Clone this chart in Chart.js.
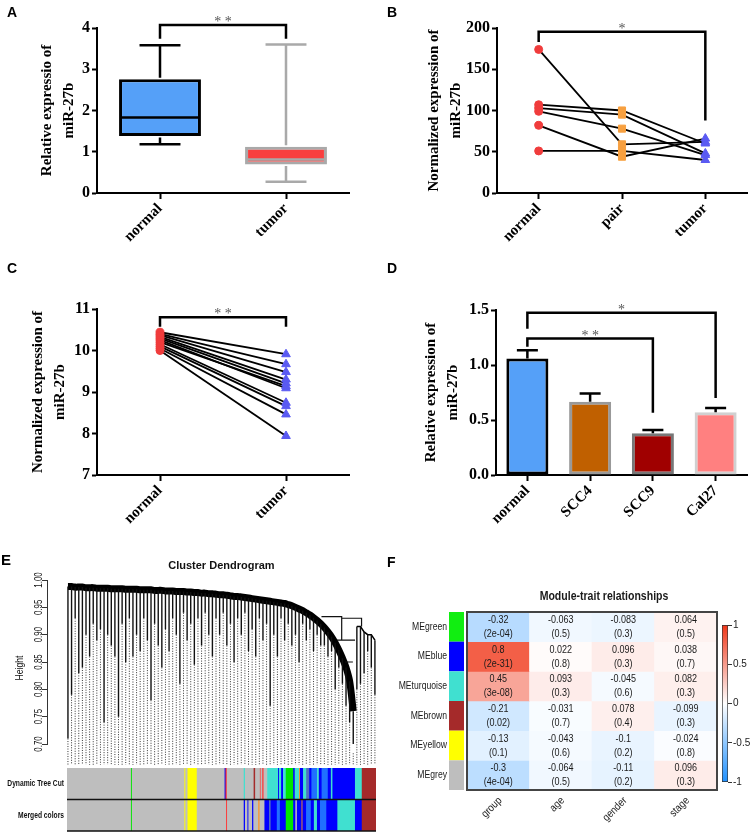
<!DOCTYPE html>
<html>
<head>
<meta charset="utf-8">
<script src="https://cdn.jsdelivr.net/npm/chart.js@4"></script>
<style>
  body { margin: 0; background: #fff; }
  #wrap { position: relative; width: 753px; height: 834px; overflow: hidden; }
  canvas { position: absolute; }
  .tag { position: absolute; font: bold 14px "Liberation Sans", Arial, sans-serif; line-height: 14px; color: #000; }
</style>
</head>
<body>
<div id="wrap">
  <canvas id="chartA" style="left:0;top:0" width="376" height="270"></canvas>
  <canvas id="chartB" style="left:376px;top:0" width="377" height="270"></canvas>
  <canvas id="chartC" style="left:0;top:270px" width="376" height="280"></canvas>
  <canvas id="chartD" style="left:376px;top:270px" width="377" height="280"></canvas>
  <canvas id="chartE" style="left:0;top:555px" width="376" height="210"></canvas>
  <canvas id="chartStrip" style="left:0;top:765px" width="376" height="69"></canvas>
  <canvas id="chartF" style="left:376px;top:555px" width="345" height="279"></canvas>
  <canvas id="chartBar" style="left:716px;top:615px" width="37" height="177"></canvas>
  <div class="tag" style="left:7px;top:5px">A</div>
  <div class="tag" style="left:387px;top:5px">B</div>
  <div class="tag" style="left:7px;top:261px">C</div>
  <div class="tag" style="left:387px;top:261px">D</div>
  <div class="tag" style="left:1px;top:553px;font-size:15px">E</div>
  <div class="tag" style="left:387px;top:555px">F</div>
</div>
<script>
// ---- A: box plot ----
const aCats = ['normal', 'tumor'];
const aMin = [1.18, 0.27];
const aQ1 = [1.38, 0.69];
const aMed = [1.83, 0.81];
const aQ3 = [2.76, 1.12];
const aMax = [3.58, 3.60];
const aSig = [{ from: 0, to: 1, top: 4.07, left: 3.74, right: 3.74, text: '* *' }];

// ---- B: paired samples ----
const bCats = ['normal', 'pair', 'tumor'];
const bNormal = [174, 107, 103, 99, 82, 51];
const bPair = [59, 100, 95, 78, 44, 51];
const bTumor = [62, 60, 48, 46, 66, 40];
const bSig = [{ from: 0, to: 2, top: 195.5, left: 183, right: 88, text: '*' }];

// ---- C: paired samples ----
const cCats = ['normal', 'tumor'];
const cNormal = [10.44, 10.40, 10.37, 10.33, 10.29, 10.25, 10.20, 10.15, 10.10, 10.05, 10.00];
const cTumor = [9.91, 9.67, 9.48, 9.30, 9.21, 9.09, 9.14, 8.74, 8.66, 8.46, 7.94];
const cSig = [{ from: 0, to: 1, top: 10.8, left: 10.57, right: 10.57, text: '* *' }];

// ---- D: bars with error ----
const dCats = ['normal', 'SCC4', 'SCC9', 'Cal27'];
const dMean = [1.06, 0.665, 0.38, 0.57];
const dErr = [0.075, 0.075, 0.028, 0.04];
const dSig = [
  { from: 0, to: 3, top: 1.475, left: 1.33, right: 0.70, text: '*' },
  { from: 0, to: 2, top: 1.24, left: 1.167, right: 0.566, text: '* *' }
];

// ---- E: dendrogram (simplified leaves) ----
const eLeafLow = [0.71, 0.79, 0.93, 0.83, 0.84, 0.90, 0.86, 0.92, 0.89, 0.91,
  0.74, 0.90, 0.88, 0.86, 0.75, 0.92, 0.85, 0.93, 0.86, 0.90,
  0.87, 0.93, 0.89, 0.78, 0.92, 0.88, 0.84, 0.91, 0.87, 0.93,
  0.90, 0.81, 0.94, 0.89, 0.92, 0.845, 0.93, 0.88, 0.94, 0.90,
  0.86, 0.93, 0.90, 0.94, 0.88, 0.92, 0.85, 0.93, 0.90, 0.94,
  0.87, 0.91, 0.86, 0.93, 0.89, 0.92, 0.77, 0.90, 0.86, 0.93,
  0.89, 0.92, 0.88, 0.90, 0.85, 0.92, 0.89, 0.91, 0.87, 0.90,
  0.88, 0.88, 0.86, 0.87, 0.80, 0.84, 0.81, 0.77, 0.74, 0.683,
  0.80, 0.81, 0.83, 0.87, 0.84, 0.79];
const eTrunkTop = [0.988, 0.988, 0.987, 0.987, 0.987, 0.986, 0.986, 0.986, 0.985, 0.985, 0.985,
  0.985, 0.984, 0.984, 0.984, 0.984, 0.983, 0.983, 0.983, 0.983, 0.982, 0.982,
  0.982, 0.982, 0.981, 0.981, 0.981, 0.980, 0.980, 0.980, 0.979, 0.979, 0.979,
  0.978, 0.978, 0.977, 0.977, 0.976, 0.976, 0.975, 0.975, 0.974, 0.973, 0.973,
  0.972, 0.971, 0.970, 0.970, 0.969, 0.968, 0.967, 0.966, 0.965, 0.964, 0.963,
  0.962, 0.961, 0.960, 0.959, 0.958, 0.957, 0.955, 0.953, 0.950, 0.947, 0.944,
  0.940, 0.936, 0.931, 0.926, 0.920, 0.913, 0.905, 0.896, 0.885, 0.872, 0.857,
  0.840, 0.815, 0.760];
const eSideTop = [0.915, 0.915, 0.905, 0.90, 0.90, 0.89];
const eMergePaths = [
  [[70.2, 0.933], [75.8, 0.933], [75.8, 0.89]],
  [[75.8, 0.93], [81.3, 0.93], [81.3, 0.915]],
  [[74.5, 0.89], [79.5, 0.89]],
  [[76.7, 0.85], [78.9, 0.85]]
];
const eBase = 0.662;
const eTicks = [0.70, 0.75, 0.80, 0.85, 0.90, 0.95, 1.00];

const stripRows = ['Dynamic Tree Cut', 'Merged colors'];
const dtcSegs = [
  [0, 20.8, 'grey'], [20.8, 21.1, 'green'], [21.1, 38.1, 'grey'], [38.1, 38.4, 'yellow'], [38.4, 39.1, 'grey'],
  [39.1, 42.1, 'yellow'], [42.1, 51.1, 'grey'], [51.1, 51.4, 'blue'], [51.4, 51.8, 'red'], [51.8, 57.3, 'grey'],
  [57.3, 57.7, 'turquoise'], [57.7, 60.5, 'grey'], [60.5, 61.0, 'brown'], [61.0, 62.5, 'grey'], [62.5, 62.9, 'salmon'],
  [62.9, 63.3, 'grey'], [63.3, 63.7, 'red'], [63.7, 64.9, 'grey'], [64.9, 68.4, 'turquoise'], [68.4, 68.7, 'blue'],
  [68.7, 69.4, 'turquoise'], [69.4, 70.0, 'blue'], [70.0, 70.9, 'turquoise'], [70.9, 73.3, 'green'], [73.3, 73.8, 'blue'],
  [73.8, 75.2, 'turquoise'], [75.2, 75.5, 'orange'], [75.5, 76.5, 'blue'], [76.5, 77.5, 'turquoise'], [77.5, 78.5, 'steelblue'],
  [78.5, 79.2, 'blue'], [79.2, 81.0, 'dodgerblue'], [81.0, 81.6, 'turquoise'], [81.6, 82.5, 'blue'], [82.5, 84.5, 'dodgerblue'],
  [84.5, 85.5, 'blue'], [85.5, 86.0, 'turquoise'], [86.0, 93.3, 'blue'], [93.3, 95.5, 'turquoise'], [95.5, 100, 'brown']
];
const mergedSegs = [
  [0, 20.8, 'grey'], [20.8, 21.1, 'green'], [21.1, 38.1, 'grey'], [38.1, 38.4, 'yellow'], [38.4, 39.1, 'grey'],
  [39.1, 42.1, 'yellow'], [42.1, 51.6, 'grey'], [51.6, 51.9, 'red'], [51.9, 57.3, 'grey'], [57.3, 57.7, 'blue'],
  [57.7, 58.5, 'grey'], [58.5, 58.8, 'blue'], [58.8, 60.0, 'grey'], [60.0, 60.4, 'blue'], [60.4, 62.0, 'grey'],
  [62.0, 62.4, 'orange'], [62.4, 64.0, 'grey'], [64.0, 65.5, 'blue'], [65.5, 66.0, 'steelblue'], [66.0, 68.0, 'blue'],
  [68.0, 69.0, 'dodgerblue'], [69.0, 70.9, 'blue'], [70.9, 73.3, 'green'], [73.3, 74.0, 'blue'], [74.0, 74.5, 'grey'],
  [74.5, 76.0, 'blue'], [76.0, 76.3, 'orange'], [76.3, 77.5, 'blue'], [77.5, 79.0, 'dodgerblue'], [79.0, 80.0, 'blue'],
  [80.0, 81.0, 'turquoise'], [81.0, 82.0, 'blue'], [82.0, 84.0, 'dodgerblue'], [84.0, 87.6, 'blue'], [87.6, 93.3, 'turquoise'],
  [93.3, 95.5, 'blue'], [95.5, 100, 'brown']
];
const palette = {
  grey: '#bebebe', green: '#00e600', yellow: '#ffff00', blue: '#0000ff', red: '#ff3030',
  turquoise: '#40e0d0', brown: '#a52a2a', salmon: '#e07070', orange: '#ff9020',
  steelblue: '#5070c0', dodgerblue: '#2070ff'
};

// ---- F: module-trait heatmap ----
const fModules = ['MEgreen', 'MEblue', 'MEturquoise', 'MEbrown', 'MEyellow', 'MEgrey'];
const fModuleColors = ['#11ee11', '#0000ff', '#40e0d0', '#a52a2a', '#ffff00', '#bebebe'];
const fTraits = ['group', 'age', 'gender', 'stage'];
const fCorr = [
  [-0.32, -0.063, -0.083, 0.064],
  [0.8, 0.022, 0.096, 0.038],
  [0.45, 0.093, -0.045, 0.082],
  [-0.21, -0.031, 0.078, -0.099],
  [-0.13, -0.043, -0.1, -0.024],
  [-0.3, -0.064, -0.11, 0.096]
];
const fPval = [
  ['2e-04', '0.5', '0.3', '0.5'],
  ['2e-31', '0.8', '0.3', '0.7'],
  ['3e-08', '0.3', '0.6', '0.3'],
  ['0.02', '0.7', '0.4', '0.3'],
  ['0.1', '0.6', '0.2', '0.8'],
  ['4e-04', '0.5', '0.2', '0.3']
];
const cbRange = [-1, 1];

const serif = '"Liberation Serif", "Times New Roman", serif';
const sans = '"Liberation Sans", Arial, sans-serif';

function corrColor(v) {
  const t = Math.min(1, Math.abs(v));
  const end = v >= 0 ? [240, 55, 25] : [30, 144, 255];
  const c = end.map(e => Math.round(255 + (e - 255) * t));
  return 'rgb(' + c.join(',') + ')';
}

function squeezed(ctx, text, x, y, rot, sx) {
  ctx.save();
  ctx.translate(x, y);
  ctx.rotate(rot);
  ctx.scale(sx, 1);
  ctx.fillText(text, 0, 0);
  ctx.restore();
}

// significance brackets, positions come from the chart scales
const bracketPlugin = {
  id: 'brackets',
  afterDatasetsDraw(chart, args, opts) {
    const { ctx, scales: { x, y } } = chart;
    ctx.save();
    ctx.lineWidth = 2.5;
    ctx.strokeStyle = '#000';
    ctx.fillStyle = '#555';
    ctx.font = '14px ' + serif;
    ctx.textAlign = 'center';
    ctx.textBaseline = 'alphabetic';
    (opts.marks || []).forEach(m => {
      const x1 = x.getPixelForValue(m.from);
      const x2 = x.getPixelForValue(m.to);
      const yt = y.getPixelForValue(m.top);
      ctx.beginPath();
      ctx.moveTo(x1, y.getPixelForValue(m.left));
      ctx.lineTo(x1, yt);
      ctx.lineTo(x2, yt);
      ctx.lineTo(x2, y.getPixelForValue(m.right));
      ctx.stroke();
      ctx.fillText(m.text, (x1 + x2) / 2, yt + 1);
    });
    ctx.restore();
  }
};

function axes(p) {
  const tickFont = { family: serif, size: 16, weight: 'bold' };
  const yTicks = { stepSize: p.step, padding: 2, color: '#000', font: tickFont };
  if (p.fmt) yTicks.callback = p.fmt;
  return {
    x: {
      type: 'category', offset: true,
      grid: { display: true, offset: false, drawOnChartArea: false, tickLength: 6, tickWidth: 2, tickColor: '#000' },
      border: { display: true, color: '#000', width: 2 },
      ticks: { autoSkip: false, minRotation: 45, maxRotation: 45, padding: 1, color: '#000',
        font: { family: serif, size: 15, weight: 'bold' } },
      afterFit: s => { s.height = p.h - p.bottom; }
    },
    y: {
      min: p.min, max: p.max,
      grid: { drawOnChartArea: false, tickLength: 5, tickWidth: 2, tickColor: '#000' },
      border: { color: '#000', width: 2 },
      ticks: yTicks,
      title: {
        display: true, text: p.title, color: '#000',
        font: { family: serif, size: 15, weight: 'bold', lineHeight: 1.45 },
        padding: { top: p.titleAt - 11, bottom: 0 }
      },
      afterFit: s => { s.width = p.left; }
    }
  };
}

function baseOptions(p, marks) {
  return {
    responsive: false, animation: false, events: [],
    layout: { padding: { top: p.top, right: p.w - p.right, left: 0, bottom: 0 } },
    plugins: { legend: { display: false }, tooltip: { enabled: false }, brackets: { marks: marks } },
    scales: axes(p)
  };
}

// ---------- A ----------
const aEdge = ['#000', '#a9a9a9'];
const boxPlugin = {
  id: 'boxes',
  afterDatasetsDraw(chart) {
    const { ctx, scales: { y } } = chart;
    ctx.save();
    ctx.lineWidth = 2.5;
    chart.getDatasetMeta(0).data.forEach((bar, i) => {
      const half = bar.width / 4;
      ctx.strokeStyle = aEdge[i];
      const yMax = y.getPixelForValue(aMax[i]);
      const yMin = y.getPixelForValue(aMin[i]);
      ctx.beginPath();
      ctx.moveTo(bar.x, y.getPixelForValue(aQ3[i]) - 1.5);
      ctx.lineTo(bar.x, yMax);
      ctx.moveTo(bar.x - half, yMax);
      ctx.lineTo(bar.x + half, yMax);
      ctx.moveTo(bar.x, y.getPixelForValue(aQ1[i]) + 1.5);
      ctx.lineTo(bar.x, yMin);
      ctx.moveTo(bar.x - half, yMin);
      ctx.lineTo(bar.x + half, yMin);
      const ym = y.getPixelForValue(aMed[i]);
      ctx.moveTo(bar.x - bar.width / 2 + 2, ym);
      ctx.lineTo(bar.x + bar.width / 2 - 2, ym);
      ctx.stroke();
    });
    ctx.restore();
  }
};

const pA = { w: 376, h: 270, left: 97, right: 349, top: 28, bottom: 193, min: 0, max: 4, step: 1,
  title: ['Relative expressio of', 'miR-27b'], titleAt: 47 };
new Chart(document.getElementById('chartA'), {
  type: 'bar',
  data: {
    labels: aCats,
    datasets: [{
      data: aCats.map((c, i) => [aQ1[i], aQ3[i]]),
      backgroundColor: ['#55a0f8', '#f83f3f'],
      borderColor: aEdge,
      borderWidth: 3,
      borderSkipped: false,
      barPercentage: 0.65,
      categoryPercentage: 1
    }]
  },
  options: baseOptions(pA, aSig),
  plugins: [boxPlugin, bracketPlugin]
});

// ---------- B ----------
const groupStyle = {
  pointStyle: ['circle', 'rect', 'triangle'],
  radius: [4, 5, 5],
  color: ['#f03c3c', '#f7a040', '#5a5af2']
};
const pB = { w: 377, h: 270, left: 121, right: 371, top: 28, bottom: 193, min: 0, max: 200, step: 50,
  title: ['Normalized expression of', 'miR-27b'], titleAt: 58 };
const bCols = [bNormal, bPair, bTumor];
new Chart(document.getElementById('chartB'), {
  type: 'line',
  data: {
    labels: bCats,
    datasets: bNormal.map((v, i) => ({
      data: [bNormal[i], bPair[i], bTumor[i]],
      borderColor: '#000', borderWidth: 1.8, pointRadius: 0, order: 1
    })).concat(bCats.map((c, k) => ({
      data: bCols[k].map(v => ({ x: c, y: v })),
      showLine: false, order: 0,
      pointStyle: groupStyle.pointStyle[k], pointRadius: groupStyle.radius[k],
      pointBackgroundColor: groupStyle.color[k], pointBorderColor: groupStyle.color[k], pointBorderWidth: 1
    })))
  },
  options: baseOptions(pB, bSig),
  plugins: [bracketPlugin]
});

// ---------- C ----------
const pC = { w: 376, h: 280, left: 97, right: 349, top: 39, bottom: 205, min: 7, max: 11, step: 1,
  title: ['Normalized expression of', 'miR-27b'], titleAt: 38 };
const cCols = [cNormal, cTumor];
const cStyle = [0, 2];
new Chart(document.getElementById('chartC'), {
  type: 'line',
  data: {
    labels: cCats,
    datasets: cNormal.map((v, i) => ({
      data: [cNormal[i], cTumor[i]],
      borderColor: '#000', borderWidth: 1.8, pointRadius: 0, order: 1
    })).concat(cCats.map((c, k) => ({
      data: cCols[k].map(v => ({ x: c, y: v })),
      showLine: false, order: 0,
      pointStyle: groupStyle.pointStyle[cStyle[k]], pointRadius: groupStyle.radius[cStyle[k]],
      pointBackgroundColor: groupStyle.color[cStyle[k]], pointBorderColor: groupStyle.color[cStyle[k]], pointBorderWidth: 1
    })))
  },
  options: baseOptions(pC, cSig),
  plugins: [bracketPlugin]
});

// ---------- D ----------
const errPlugin = {
  id: 'errbars',
  afterDatasetsDraw(chart) {
    const { ctx, scales: { y } } = chart;
    ctx.save();
    ctx.lineWidth = 2.5;
    ctx.strokeStyle = '#000';
    chart.getDatasetMeta(0).data.forEach((bar, i) => {
      const yTop = y.getPixelForValue(dMean[i] + dErr[i]);
      ctx.beginPath();
      ctx.moveTo(bar.x, y.getPixelForValue(dMean[i]));
      ctx.lineTo(bar.x, yTop);
      ctx.moveTo(bar.x - 10.5, yTop);
      ctx.lineTo(bar.x + 10.5, yTop);
      ctx.stroke();
    });
    ctx.restore();
  }
};
const pD = { w: 377, h: 280, left: 120, right: 371, top: 40, bottom: 205, min: 0, max: 1.5, step: 0.5,
  title: ['Relative expression of', 'miR-27b'], titleAt: 55, fmt: v => Number(v).toFixed(1) };
new Chart(document.getElementById('chartD'), {
  type: 'bar',
  data: {
    labels: dCats,
    datasets: [{
      data: dMean,
      backgroundColor: ['#55a0f8', '#c06000', '#a00000', '#ff8080'],
      borderColor: ['#000', '#999', '#777', '#d0d0d0'],
      borderWidth: 3,
      borderSkipped: false,
      barPercentage: 0.67,
      categoryPercentage: 1
    }]
  },
  options: baseOptions(pD, dSig),
  plugins: [errPlugin, bracketPlugin]
});

// ---------- E ----------
const eLeafTop = eTrunkTop.concat(eSideTop);
const branchPts = [];
const guidePts = [];
eLeafLow.forEach((lo, i) => {
  branchPts.push({ x: i, y: eLeafTop[i] }, { x: i, y: lo }, { x: i, y: null });
  guidePts.push({ x: i, y: lo }, { x: i, y: eBase }, { x: i, y: null });
});
const mergePts = [];
eMergePaths.forEach(path => {
  path.forEach(pt => mergePts.push({ x: pt[0], y: pt[1] }));
  mergePts.push({ x: path[0][0], y: null });
});
const trunkPts = eTrunkTop.map((t, i) => ({ x: i, y: t }));
const sidePts = eSideTop.map((t, i) => ({ x: eTrunkTop.length + i, y: t }));

const eTextPlugin = {
  id: 'eText',
  afterDraw(chart) {
    const { ctx, scales: { x, y } } = chart;
    ctx.save();
    ctx.fillStyle = '#111';
    ctx.textAlign = 'center';
    ctx.textBaseline = 'middle';
    ctx.font = 'bold 11px ' + sans;
    ctx.fillText('Cluster Dendrogram', (x.getPixelForValue(0) + x.getPixelForValue(eLeafLow.length - 1)) / 2, 11);
    ctx.font = '11px ' + sans;
    eTicks.forEach(t => squeezed(ctx, t.toFixed(2), 39, y.getPixelForValue(t), -Math.PI / 2, 0.72));
    ctx.font = '11.5px ' + sans;
    squeezed(ctx, 'Height', 20, 113, -Math.PI / 2, 0.75);
    ctx.restore();
  }
};

new Chart(document.getElementById('chartE'), {
  type: 'line',
  data: {
    datasets: [
      { data: guidePts, borderColor: '#333', borderWidth: 1, borderDash: [1, 1.5], pointRadius: 0, clip: false, spanGaps: false },
      { data: branchPts, borderColor: '#111', borderWidth: 1.4, pointRadius: 0, spanGaps: false },
      { data: mergePts, borderColor: '#111', borderWidth: 1.2, pointRadius: 0, spanGaps: false },
      { data: trunkPts, borderColor: '#000', borderWidth: 7, pointRadius: 0, tension: 0.3 },
      { data: sidePts, borderColor: '#000', borderWidth: 1.5, pointRadius: 0 }
    ]
  },
  options: {
    responsive: false, animation: false, events: [],
    layout: { padding: { top: 25, right: 0, bottom: 21, left: 0 } },
    plugins: { legend: { display: false }, tooltip: { enabled: false } },
    scales: {
      x: { type: 'linear', min: -5.8, max: 85.3, display: false },
      y: {
        min: 0.7, max: 1.0,
        ticks: { stepSize: 0.05, display: false },
        grid: { drawOnChartArea: false, tickLength: 5, tickColor: '#333' },
        border: { color: '#333', width: 1 },
        afterFit: s => { s.width = 47; }
      }
    }
  },
  plugins: [eTextPlugin]
});

const stripLines = {
  id: 'stripLines',
  afterDatasetsDraw(chart) {
    const { ctx, chartArea: a, scales: { y } } = chart;
    ctx.save();
    ctx.strokeStyle = '#111';
    ctx.lineWidth = 1.5;
    ctx.beginPath();
    const mid = (a.top + a.bottom) / 2;
    ctx.moveTo(a.left, mid); ctx.lineTo(a.right, mid);
    ctx.moveTo(a.left, a.bottom); ctx.lineTo(a.right, a.bottom);
    ctx.stroke();
    ctx.fillStyle = '#111';
    ctx.textAlign = 'right';
    ctx.textBaseline = 'middle';
    ctx.font = 'bold 8.5px ' + sans;
    stripRows.forEach((r, i) => squeezed(ctx, r, a.left - 3, y.getPixelForValue(i), 0, 0.79));
    ctx.restore();
  }
};

new Chart(document.getElementById('chartStrip'), {
  type: 'bar',
  data: {
    labels: stripRows,
    datasets: [dtcSegs, mergedSegs].map((segs, r) => ({
      data: segs.map(s => ({ x: [s[0], s[1]], y: stripRows[r] })),
      backgroundColor: segs.map(s => palette[s[2]]),
      borderWidth: 0, grouped: false, barPercentage: 1, categoryPercentage: 1
    }))
  },
  options: {
    indexAxis: 'y',
    responsive: false, animation: false, events: [],
    layout: { padding: { top: 3, right: 0, bottom: 3, left: 0 } },
    plugins: { legend: { display: false }, tooltip: { enabled: false } },
    scales: {
      x: { type: 'linear', min: 0, max: 100, display: false },
      y: {
        ticks: { display: false },
        grid: { display: false }, border: { display: false },
        afterFit: s => { s.width = 67; }
      }
    }
  },
  plugins: [stripLines]
});

// ---------- F ----------
const fTextPlugin = {
  id: 'fText',
  afterDatasetsDraw(chart) {
    const { ctx, chartArea: a } = chart;
    ctx.save();
    ctx.textAlign = 'center';
    ctx.textBaseline = 'middle';
    ctx.fillStyle = '#1a1a1a';
    ctx.font = '11px ' + sans;
    fModules.forEach((m, r) => {
      const els = chart.getDatasetMeta(r).data;
      els.forEach((el, c) => {
        const cy = (el.y + el.base) / 2;
        squeezed(ctx, String(fCorr[r][c]), el.x, cy - 7, 0, 0.82);
        squeezed(ctx, '(' + fPval[r][c] + ')', el.x, cy + 7, 0, 0.82);
      });
      const top = Math.min(els[0].y, els[0].base);
      const bot = Math.max(els[0].y, els[0].base);
      ctx.fillStyle = fModuleColors[r];
      ctx.fillRect(a.left - 18, top, 15, bot - top);
      ctx.fillStyle = '#1a1a1a';
      ctx.textAlign = 'right';
      ctx.font = '10.5px ' + sans;
      squeezed(ctx, m, a.left - 20, (top + bot) / 2, 0, 0.82);
      ctx.textAlign = 'center';
      ctx.font = '11px ' + sans;
    });
    ctx.strokeStyle = '#444';
    ctx.lineWidth = 2;
    ctx.strokeRect(a.left, a.top, a.right - a.left, a.bottom - a.top);
    ctx.textAlign = 'right';
    ctx.font = '11px ' + sans;
    chart.getDatasetMeta(0).data.forEach((el, c) => {
      squeezed(ctx, fTraits[c], el.x + 2, a.bottom + 9, -Math.PI / 4, 0.85);
    });
    ctx.textAlign = 'center';
    ctx.font = 'bold 13.5px ' + sans;
    squeezed(ctx, 'Module-trait relationships', 228, 41, 0, 0.78);
    ctx.restore();
  }
};

new Chart(document.getElementById('chartF'), {
  type: 'bar',
  data: {
    labels: fTraits,
    datasets: fModules.map((m, r) => ({
      label: m,
      data: fTraits.map(() => 1),
      backgroundColor: fCorr[r].map(corrColor),
      borderWidth: 0, barPercentage: 1, categoryPercentage: 1
    }))
  },
  options: {
    responsive: false, animation: false, events: [],
    layout: { padding: { top: 57, right: 4, bottom: 44, left: 91 } },
    plugins: { legend: { display: false }, tooltip: { enabled: false } },
    scales: {
      x: { stacked: true, display: false },
      y: { stacked: true, display: false, min: 0, max: fModules.length, reverse: true }
    }
  },
  plugins: [fTextPlugin]
});

new Chart(document.getElementById('chartBar'), {
  type: 'bar',
  data: {
    labels: ['r'],
    datasets: [{
      data: [cbRange],
      backgroundColor: ctx => {
        const a = ctx.chart.chartArea;
        if (!a) return '#fff';
        const g = ctx.chart.ctx.createLinearGradient(0, a.top, 0, a.bottom);
        g.addColorStop(0, corrColor(1));
        g.addColorStop(0.5, corrColor(0));
        g.addColorStop(1, corrColor(-1));
        return g;
      },
      borderColor: '#333', borderWidth: 1, borderSkipped: false,
      barPercentage: 1, categoryPercentage: 1
    }]
  },
  options: {
    responsive: false, animation: false, events: [],
    layout: { padding: { top: 10, right: 0, bottom: 10, left: 6 } },
    plugins: { legend: { display: false }, tooltip: { enabled: false } },
    scales: {
      x: { display: false },
      y: {
        position: 'right', min: -1, max: 1,
        ticks: { stepSize: 0.5, padding: 1, color: '#222', font: { family: sans, size: 10 },
          callback: v => String(Math.round(v * 10) / 10) },
        grid: { drawOnChartArea: false, tickLength: 4, tickColor: '#333' },
        border: { display: false },
        afterFit: s => { s.width = 25; }
      }
    }
  }
});
</script>
</body>
</html>
